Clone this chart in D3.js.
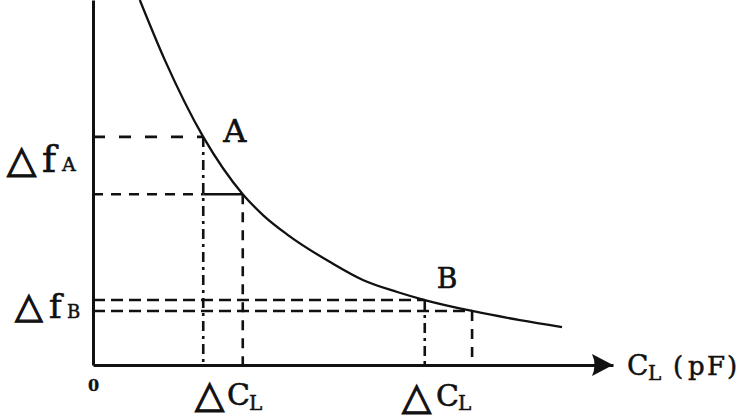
<!DOCTYPE html>
<html>
<head>
<meta charset="utf-8">
<script src="https://cdn.jsdelivr.net/npm/d3@7"></script>
<style>
  body { margin: 0; background: #fff; }
  svg { display: block; }
</style>
</head>
<body>
<div id="chart"></div>
<script>
// Curve C_L -> delta f (arbitrary units, 0..100 on both axes)
var curveX = [9.0, 13.8, 21.2, 28.8, 32.9, 37.5, 45.6, 51.9, 58.5, 63.8, 72.9, 82.1, 90.2];
var curveY = [100.0, 83.6, 62.5, 46.8, 40.8, 35.6, 28.2, 23.3, 20.0, 17.8, 14.8, 12.3, 10.4];

// Marked points and their partner points further along the curve
var pointNames = ['A', 'B'];
var pointX = [21.2, 63.8];
var pointY = [62.5, 17.8];
var pairX = [28.8, 72.9];
var pairY = [46.8, 14.8];

var width = 746,
    height = 420;

var svg = d3.select('#chart')
    .append('svg')
        .attr('width', width)
        .attr('height', height);

var x = d3.scaleLinear().domain([0, 100]).range([93, 613]);
var y = d3.scaleLinear().domain([0, 100]).range([365, 0]);

var ink = '#111';
var serif = "'DejaVu Serif', serif";
var tri = "'DejaVu Sans', sans-serif";

// Axes, no ticks
svg.append('g')
    .attr('transform', 'translate(' + x(0) + ',0)')
    .call(d3.axisLeft(y).tickValues([]).tickSizeOuter(0))
    .select('.domain')
        .attr('stroke', ink)
        .attr('stroke-width', 3);

svg.append('g')
    .attr('transform', 'translate(0,' + y(0) + ')')
    .call(d3.axisBottom(x).tickValues([]).tickSizeOuter(0))
    .select('.domain')
        .attr('stroke', ink)
        .attr('stroke-width', 3);

// Arrow head on the x axis
var tipX = x(100), tipY = y(0);
svg.append('path')
    .attr('d', 'M' + (tipX - 21) + ',' + (tipY - 11) +
               ' L' + tipX + ',' + tipY +
               ' L' + (tipX - 21) + ',' + (tipY + 11) +
               ' Q' + (tipX - 16) + ',' + tipY + ' ' + (tipX - 21) + ',' + (tipY - 11) + 'Z')
    .attr('fill', ink);

// Guide lines
var guides = svg.append('g')
    .attr('stroke', ink)
    .attr('stroke-width', 2.6)
    .attr('fill', 'none');

var dashLong = '12,14',
    dashMid = '10,8',
    dashShort = '12,6',
    dashDot = '10,5,3,5';

pointNames.forEach(function(name, i){
    // horizontal to the marked point
    guides.append('line')
        .attr('x1', x(0)).attr('x2', x(pointX[i]))
        .attr('y1', y(pointY[i])).attr('y2', y(pointY[i]))
        .attr('stroke-dasharray', i === 0 ? dashLong : dashShort);
    // horizontal to the partner point
    if (i === 0) {
        guides.append('line')
            .attr('x1', x(0)).attr('x2', x(pointX[i]))
            .attr('y1', y(pairY[i])).attr('y2', y(pairY[i]))
            .attr('stroke-dasharray', dashMid);
        guides.append('line')
            .attr('x1', x(pointX[i])).attr('x2', x(pairX[i]))
            .attr('y1', y(pairY[i])).attr('y2', y(pairY[i]));
    } else {
        guides.append('line')
            .attr('x1', x(0)).attr('x2', x(pairX[i]))
            .attr('y1', y(pairY[i])).attr('y2', y(pairY[i]))
            .attr('stroke-dasharray', dashShort);
    }
    // verticals down to the x axis
    guides.append('line')
        .attr('x1', x(pointX[i])).attr('x2', x(pointX[i]))
        .attr('y1', y(pointY[i])).attr('y2', y(0))
        .attr('stroke-dasharray', dashDot);
    guides.append('line')
        .attr('x1', x(pairX[i])).attr('x2', x(pairX[i]))
        .attr('y1', y(pairY[i])).attr('y2', y(0))
        .attr('stroke-dasharray', dashMid);
});

// The curve
var line = d3.line()
    .x(function(d){ return x(d[0]); })
    .y(function(d){ return y(d[1]); })
    .curve(d3.curveMonotoneX);

svg.append('path')
    .datum(d3.zip(curveX, curveY))
    .attr('d', line)
    .attr('fill', 'none')
    .attr('stroke', ink)
    .attr('stroke-width', 2.3);

// Text gets a thin outline so it reads as heavy as the scan
function heavy(sel, w){
    return sel.attr('fill', ink).attr('stroke', ink).attr('stroke-width', w);
}

// Point labels
heavy(svg.append('text')
    .attr('x', x(pointX[0]) + 20).attr('y', y(pointY[0]) + 5)
    .style('font', '32px ' + serif), 0.6)
    .text(pointNames[0]);
heavy(svg.append('text')
    .attr('x', x(pointX[1]) + 12).attr('y', y(pointY[1]) - 12)
    .style('font', '28px ' + serif), 0.6)
    .text(pointNames[1]);

// Helper for "triangle + letter + small letter" labels
function deltaLabel(px, py, main, sub, opt){
    var g = svg.append('g');
    heavy(g.append('text')
        .attr('x', px).attr('y', py)
        .style('font', opt.triSize + 'px ' + tri), 1.2)
        .text('\u25B3');
    heavy(g.append('text')
        .attr('x', px + opt.mainDx).attr('y', py + opt.mainDy)
        .style('font', opt.mainSize + 'px ' + serif), 0.6)
        .text(main);
    heavy(g.append('text')
        .attr('x', px + opt.subDx).attr('y', py + opt.subDy)
        .style('font', opt.subSize + 'px ' + serif), 0.5)
        .text(sub);
}

deltaLabel(7, 172, 'f', 'A', {triSize: 38, mainDx: 35, mainDy: 0, mainSize: 38, subDx: 55, subDy: -1, subSize: 19});
deltaLabel(15, 318, 'f', 'B', {triSize: 36, mainDx: 34, mainDy: 0, mainSize: 34, subDx: 52, subDy: 0, subSize: 18});

deltaLabel(195, 407, 'C', 'L', {triSize: 38, mainDx: 32, mainDy: -2, mainSize: 30, subDx: 54, subDy: 3, subSize: 20});
deltaLabel(402, 409, 'C', 'L', {triSize: 38, mainDx: 34, mainDy: -3, mainSize: 30, subDx: 56, subDy: 1, subSize: 20});

// Axis labels
heavy(svg.append('text')
    .attr('x', 88).attr('y', 391)
    .style('font', 'bold 16px ' + serif), 0.3)
    .text('0');

heavy(svg.append('text')
    .attr('x', 627).attr('y', 375)
    .style('font', '28px ' + serif), 0.5)
    .text('C');
heavy(svg.append('text')
    .attr('x', 648).attr('y', 380)
    .style('font', '20px ' + serif), 0.5)
    .text('L');
heavy(svg.append('text')
    .attr('x', '673 688 707 727').attr('y', 375)
    .style('font', '26px ' + serif), 0.5)
    .text('(pF)');
</script>
</body>
</html>
